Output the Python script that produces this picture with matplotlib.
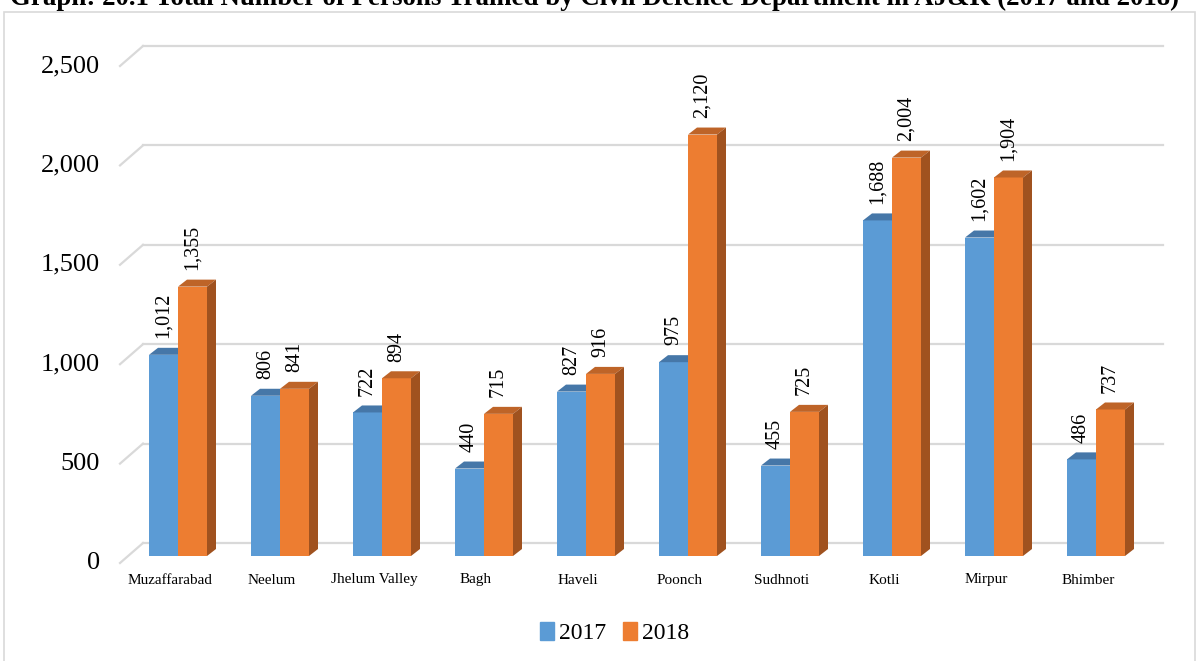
import numpy as np
import matplotlib.pyplot as plt
from matplotlib.patches import Polygon, Rectangle

districts = ['Muzaffarabad', 'Neelum', 'Jhelum Valley', 'Bagh', 'Haveli',
             'Poonch', 'Sudhnoti', 'Kotli', 'Mirpur', 'Bhimber']
y2017 = [1012, 806, 722, 440, 827, 975, 455, 1688, 1602, 486]
y2018 = [1355, 841, 894, 715, 916, 2120, 725, 2004, 1904, 737]
yticks = [0, 500, 1000, 1500, 2000, 2500]
title = 'Graph: 20.1 Total Number of Persons Trained by Civil Defence Department in AJ&K (2017 and 2018)'

plt.rcParams['font.family'] = ['Liberation Serif', 'DejaVu Serif']

# scale: 102 px per category, 0.1988 px per person
PX = 1 / 102
PY = 1 / 0.1988
W = 29 * PX            # bar width
DX, DY = 9 * PX, 7 * PY    # bar depth
BX, BY = 15 * PX, 13 * PY  # back wall offset from bar front
FX, FY = 8 * PX, 7 * PY    # front plane offset from bar front

fig = plt.figure(figsize=(12, 6.61), dpi=100)
ax = fig.add_axes([0, 0, 1, 1])
ax.set_xlim(-178 * PX, (1200 - 178) * PX)
ax.set_ylim(-105 * PY, 556 * PY)
ax.axis('off')

# outer frame
fig.patches.append(Rectangle((4 / 1200, -0.01), 1191 / 1200, 1 - 12 / 661 + 0.01,
                             transform=fig.transFigure, fill=False,
                             edgecolor='#D9D9D9', linewidth=1.2))
# title is cut by the top edge in the original too
fig.text(595 / 1200, 1 - 5 / 661, title, ha='center', va='baseline', fontsize=19.4, fontweight='bold')

n = len(districts)
x = np.arange(n)
grid_l, grid_r = -0.343, n - 0.343
for v in yticks:
    ax.plot([grid_l, grid_r], [v + BY, v + BY], color='#D9D9D9', lw=1.6, zorder=1)
    ax.plot([grid_l - BX - FX, grid_l], [v - FY, v + BY], color='#D9D9D9', lw=1.6, zorder=1)
    ax.text(-78 * PX, v - FY, f'{v:,}', ha='right', va='center', fontsize=19)


def bars3d(x0s, vals, face, side, top):
    ax.bar(x0s, vals, width=W, align='edge', color=face, zorder=3)
    for x0, v in zip(x0s, vals):
        ax.add_patch(Polygon([(x0, v), (x0 + W, v), (x0 + W + DX, v + DY), (x0 + DX, v + DY)],
                             closed=True, facecolor=top, edgecolor='none', zorder=3))
        ax.add_patch(Polygon([(x0 + W, 0), (x0 + W, v), (x0 + W + DX, v + DY), (x0 + W + DX, DY)],
                             closed=True, facecolor=side, edgecolor='none', zorder=3))
        ax.annotate(f'{v:,}', (x0 + W / 2, v + DY), xytext=(0, 7), textcoords='offset points',
                    rotation=90, ha='center', va='bottom', fontsize=14.5)


bars3d(x - W, y2017, '#5B9BD5', '#41719C', '#4677A8')
bars3d(x, y2018, '#ED7D31', '#A0521F', '#BE6428')

for i, name in enumerate(districts):
    ax.text(i - FX, -24 * PY, name, ha='center', va='center', fontsize=11)

h1 = Rectangle((0, 0), 1, 1, color='#5B9BD5')
h2 = Rectangle((0, 0), 1, 1, color='#ED7D31')
fig.legend([h1, h2], ['2017', '2018'], loc='center', bbox_to_anchor=(0.512, 1 - 633 / 661),
           ncol=2, frameon=False, fontsize=17, handlelength=0.6, handleheight=0.8,
           handletextpad=0.2, columnspacing=0.7)

fig.savefig('out.png', dpi=100)
